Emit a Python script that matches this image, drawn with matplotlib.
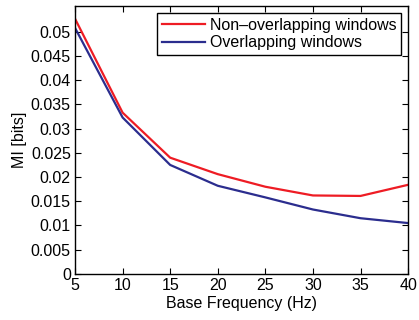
import matplotlib
matplotlib.use("Agg")
import matplotlib.pyplot as plt

freq = [5, 10, 15, 20, 25, 30, 35, 40]
non_overlap = [0.0527, 0.0333, 0.0240, 0.0206, 0.0180, 0.0162, 0.0161, 0.0184]
overlap = [0.0508, 0.0323, 0.0225, 0.0182, 0.0158, 0.0133, 0.0115, 0.0105]
yticks = [0, 0.005, 0.01, 0.015, 0.02, 0.025, 0.03, 0.035, 0.04, 0.045, 0.05]
ytick_labels = ["0", "0.005", "0.01", "0.015", "0.02", "0.025", "0.03", "0.035", "0.04", "0.045", "0.05"]

plt.rcParams['font.family'] = ['Liberation Sans', 'DejaVu Sans']
plt.rcParams['font.size'] = 11.5

fig = plt.figure(figsize=(4.19, 3.2), dpi=100)
ax = fig.add_axes([0.179, 0.144, 0.795, 0.837])
ax.plot(freq, non_overlap, color='#ee1c24', lw=1.6, label='Non\u2013overlapping windows')
ax.plot(freq, overlap, color='#2b2d8e', lw=1.6, label='Overlapping windows')
ax.set_xlim(5, 40)
ax.set_ylim(0, 0.0553)
ax.set_xticks(freq)
ax.set_yticks(yticks)
ax.set_yticklabels(ytick_labels)
ax.tick_params(direction='in', top=True, right=True, length=4, width=0.8, pad=3)
for s in ax.spines.values():
    s.set_linewidth(1.0)
ax.set_xlabel('Base Frequency (Hz)', labelpad=2)
ax.set_ylabel('MI [bits]', labelpad=3)
leg = ax.legend(loc='upper right', fancybox=False, edgecolor='black', framealpha=1,
                borderpad=0.3, handlelength=2.7, handletextpad=0.3, labelspacing=0.15,
                borderaxespad=0.45)
leg.get_frame().set_linewidth(1.0)
fig.savefig('out.png', dpi=100)
